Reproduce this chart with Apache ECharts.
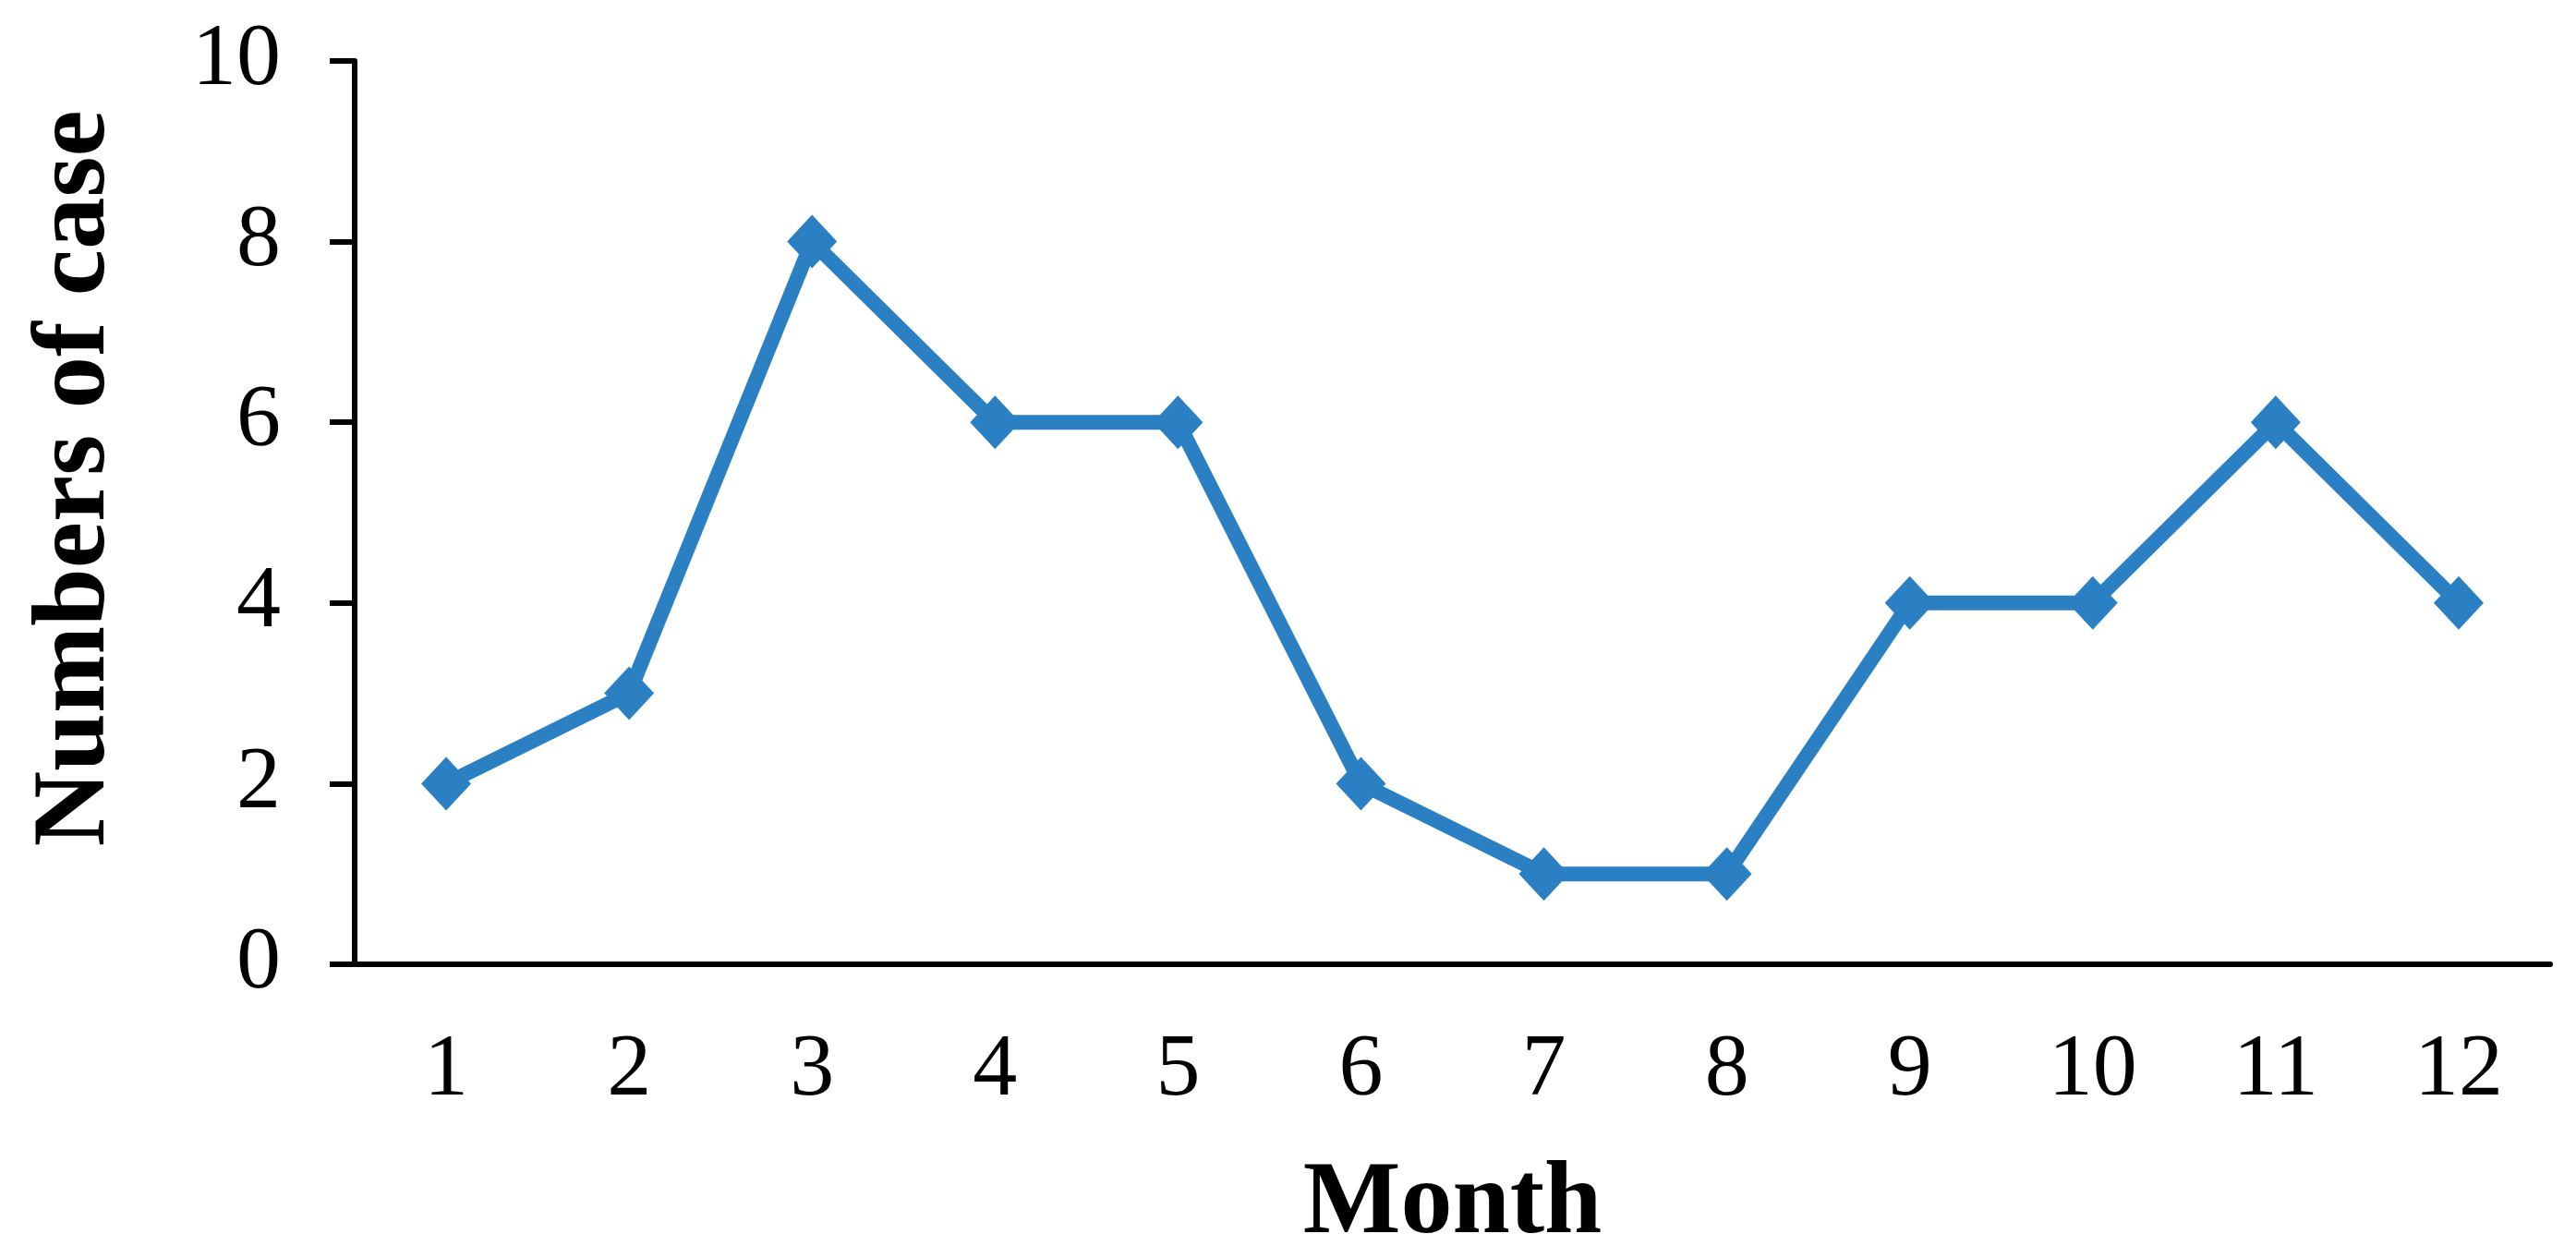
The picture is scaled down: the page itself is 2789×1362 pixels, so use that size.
<!DOCTYPE html>
<html>
<head>
<meta charset="utf-8">
<script src="https://cdn.jsdelivr.net/npm/echarts@6/dist/echarts.min.js"></script>
<style>
  html, body { margin: 0; padding: 0; background: #fff; }
  #chart { width: 2789px; height: 1362px; }
</style>
</head>
<body>
<div id="chart"></div>
<script>
// data
const months = ['1', '2', '3', '4', '5', '6', '7', '8', '9', '10', '11', '12'];
const cases = [2, 3, 8, 6, 6, 2, 1, 1, 4, 4, 6, 4];
const yMin = 0;
const yMax = 10;
const yStep = 2;

const FONT = '"Liberation Serif", "Times New Roman", serif';
const AXIS_COLOR = '#000';
const LINE_COLOR = '#2b7fc3';

const chart = echarts.init(document.getElementById('chart'));
chart.setOption({
  backgroundColor: '#fff',
  animation: false,
  grid: {
    left: 384,
    right: 28,
    top: 66,
    bottom: 318,
    // keep the plot box fixed, names may reach the edge
    outerBoundsMode: 'none',
  },
  xAxis: {
    type: 'category',
    data: months,
    boundaryGap: true,
    name: 'Month',
    nameLocation: 'middle',
    nameGap: 205,
    nameTextStyle: {
      fontFamily: FONT,
      fontWeight: 'bold',
      fontSize: 112,
      color: '#000',
    },
    axisLine: { lineStyle: { color: AXIS_COLOR, width: 6 } },
    axisTick: { length: 27, lineStyle: { color: AXIS_COLOR, width: 6 } },
    axisLabel: {
      margin: 68,
      fontFamily: FONT,
      fontSize: 96,
      color: '#000',
    },
    splitLine: { show: false },
  },
  yAxis: {
    type: 'value',
    min: yMin,
    max: yMax,
    interval: yStep,
    name: 'Numbers of case',
    nameLocation: 'middle',
    nameGap: 245,
    nameRotate: 90,
    nameTextStyle: {
      fontFamily: FONT,
      fontWeight: 'bold',
      fontSize: 113,
      color: '#000',
      padding: [0, 0, 0, 74],
    },
    axisLine: { show: true, lineStyle: { color: AXIS_COLOR, width: 6 } },
    axisTick: { show: true, length: 27, lineStyle: { color: AXIS_COLOR, width: 6 } },
    axisLabel: {
      margin: 80,
      fontFamily: FONT,
      fontSize: 96,
      color: '#000',
    },
    splitLine: { show: false },
  },
  series: [{
    type: 'line',
    data: cases,
    symbol: 'diamond',
    symbolSize: [54, 58],
    itemStyle: { color: LINE_COLOR },
    lineStyle: { color: LINE_COLOR, width: 16 },
  }],
});
</script>
</body>
</html>
